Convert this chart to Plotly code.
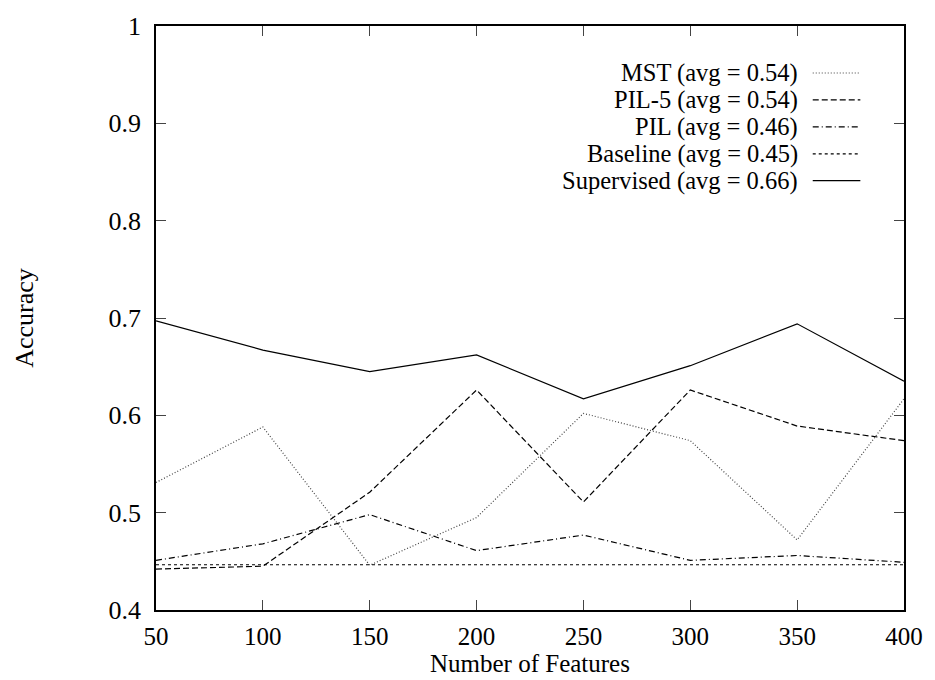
import plotly.graph_objects as go

features = [50, 100, 150, 200, 250, 300, 350, 400]
mst = [0.531, 0.588, 0.446, 0.495, 0.602, 0.574, 0.472, 0.617]
pil5 = [0.442, 0.445, 0.521, 0.626, 0.511, 0.626, 0.589, 0.574]
pil = [0.451, 0.468, 0.498, 0.461, 0.477, 0.451, 0.456, 0.449]
baseline = [0.4465, 0.4465, 0.4465, 0.4465, 0.4465, 0.4465, 0.4465, 0.4465]
supervised = [0.697, 0.667, 0.645, 0.662, 0.617, 0.651, 0.694, 0.635]

names = ["MST (avg = 0.54)", "PIL-5 (avg = 0.54)", "PIL (avg = 0.46)",
         "Baseline (avg = 0.45)", "Supervised (avg = 0.66)"]
series = [mst, pil5, pil, baseline, supervised]
dashes = ["1px,2px", "6px,3px", "6px,3px,1px,3px", "3px,3px", "solid"]
colors = ["#444444", "black", "black", "black", "black"]

yticks = [0.4, 0.5, 0.6, 0.7, 0.8, 0.9, 1.0]
yticktext = ["0.4", "0.5", "0.6", "0.7", "0.8", "0.9", "1"]

FONT = "Liberation Serif"
FS = 26
fig = go.Figure()
for n, s, d, c in zip(names, series, dashes, colors):
    fig.add_trace(go.Scatter(x=features, y=s, mode="lines", name=n,
                             line=dict(color=c, width=1.2, dash=d),
                             showlegend=False))

# manual legend (text on the left, sample on the right, gnuplot style)
W, H = 935, 680
ml, mr, mt, mb = 156, 25, 20, 70
pw, ph = W - ml - mr, H - mt - mb
def px(x):
    return (x - ml) / pw
def py(y):
    return 1 - (y - mt) / ph
row_y = [67.5, 94.7, 121.9, 149.1, 176.3]
for n, d, c, ry in zip(names, dashes, colors, row_y):
    fig.add_annotation(x=px(804), y=py(ry), xref="paper", yref="paper",
                       text=n, showarrow=False, xanchor="right", yanchor="middle",
                       borderpad=0,
                       font=dict(family=FONT, size=24.5, color="black"))
    fig.add_shape(type="line", xref="paper", yref="paper",
                  x0=px(818), x1=px(866), y0=py(ry), y1=py(ry),
                  line=dict(color=c, width=1.2, dash=d))

# x-axis title placed as text just below the tick labels
fig.add_annotation(x=0.5, y=py(679), xref="paper", yref="paper",
                   text="Number of Features", showarrow=False,
                   xanchor="center", yanchor="bottom", borderpad=0,
                   font=dict(family=FONT, size=25, color="black"))

fig.update_layout(
    width=W, height=H,
    margin=dict(l=ml, r=mr, t=mt, b=mb),
    plot_bgcolor="white", paper_bgcolor="white",
    font=dict(family=FONT, size=FS, color="black"),
)
fig.update_xaxes(range=[50, 400], tickvals=features, ticks="inside", ticklen=10,
                 mirror="ticks", showline=True, linecolor="black", linewidth=1.5,
                 showgrid=False, zeroline=False, ticklabelstandoff=3,
                 tickfont=dict(family=FONT, size=25))
fig.update_yaxes(range=[0.4, 1.0], tickvals=yticks, ticktext=yticktext,
                 ticks="inside", ticklen=10, mirror="ticks", showline=True,
                 linecolor="black", linewidth=1.5, showgrid=False, zeroline=False,
                 ticklabelstandoff=8,
                 title=dict(text="Accuracy", standoff=67,
                            font=dict(family=FONT, size=FS)))

fig.write_html("out.html")
